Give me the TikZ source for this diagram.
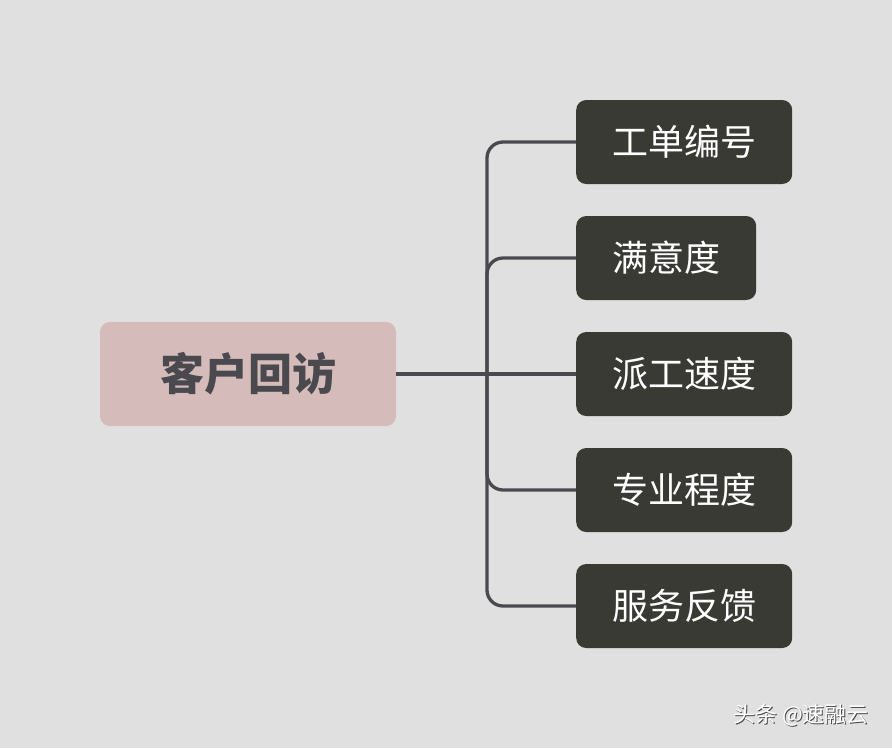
\documentclass[tikz,border=0pt]{standalone}
\usepackage{fontspec}
\newfontfamily\cjk{Noto Sans CJK SC}
\usetikzlibrary{positioning}
\definecolor{bgcol}{RGB}{224,224,224}
\definecolor{rootcol}{RGB}{213,188,187}
\definecolor{boxcol}{RGB}{58,58,53}
\definecolor{linecol}{RGB}{74,74,78}
\tikzset{
  topic/.style={fill=rootcol,rounded corners=10pt,minimum width=296pt,minimum height=104pt,
    text=linecol,font=\cjk\bfseries\fontsize{44}{48}\selectfont},
  subtopic/.style={fill=boxcol,rounded corners=10pt,minimum height=84pt,inner xsep=36pt,
    anchor=west,text=white,font=\cjk\fontsize{36}{40}\selectfont},
  branch/.style={draw=linecol,line width=3.3pt,rounded corners=16pt},
  watermark/.style={font=\cjk\fontsize{22}{26}\selectfont}
}
\begin{document}
\begin{tikzpicture}[x=1pt,y=-1pt]
\fill[bgcol] (0,0) rectangle (892,748);
\useasboundingbox (0,0) rectangle (892,748);
% center topic
\node[topic] (root) at (248,374) {客户回访};
\coordinate (hub) at (487,374);
% sub topics
\node[subtopic] (s1) at (576,142) {工单编号};
\node[subtopic] (s2) at (576,258) {满意度};
\node[subtopic] (s3) at (576,374) {派工速度};
\node[subtopic] (s4) at (576,490) {专业程度};
\node[subtopic] (s5) at (576,606) {服务反馈};
% connectors
\draw[branch] (root.east) -- (s3.west);
\foreach \s in {s1,s2,s4,s5}
  \draw[branch] (hub) |- (\s.west);
% watermark
\node[watermark,text=black!70] at (802,716) {头条 @速融云};
\node[watermark,text=white] (wm) at (801,715) {头条 @速融云};
\end{tikzpicture}
\end{document}
